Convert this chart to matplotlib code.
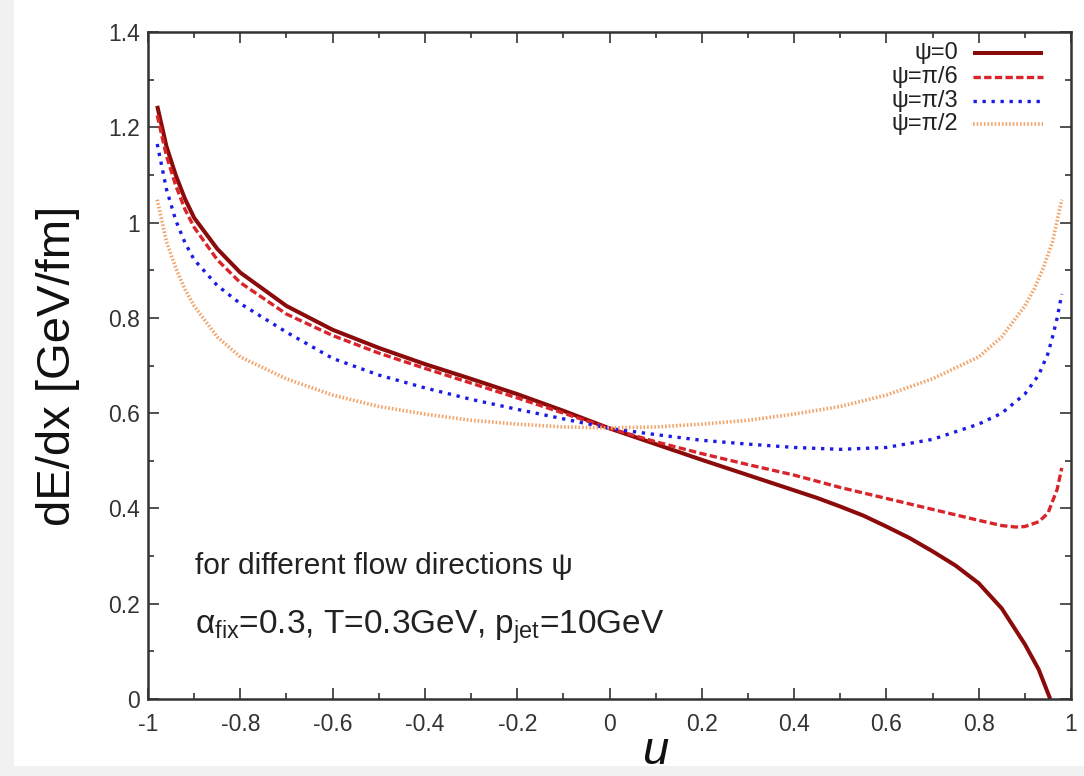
import matplotlib
matplotlib.use("Agg")
import matplotlib.pyplot as plt
from matplotlib.patches import Rectangle

plt.rcParams['font.family'] = ['Liberation Sans', 'DejaVu Sans']
plt.rcParams['mathtext.fontset'] = 'custom'
plt.rcParams['mathtext.rm'] = 'Liberation Sans'
plt.rcParams['mathtext.it'] = 'Liberation Sans:italic'

# ---- data ----
u_psi0 = [-0.98, -0.96, -0.94, -0.92, -0.90, -0.85, -0.80, -0.70, -0.60, -0.50,
          -0.40, -0.30, -0.20, -0.10, 0.00, 0.10, 0.20, 0.30, 0.40, 0.45, 0.50,
          0.55, 0.60, 0.65, 0.70, 0.75, 0.80, 0.85, 0.90, 0.93, 0.955]
dEdx_psi0 = [1.245, 1.16, 1.10, 1.05, 1.01, 0.945, 0.895, 0.825, 0.775, 0.737,
             0.703, 0.672, 0.640, 0.605, 0.568, 0.535, 0.502, 0.470, 0.438, 0.422, 0.404,
             0.385, 0.362, 0.338, 0.310, 0.280, 0.243, 0.190, 0.115, 0.062, 0.0]

u_psi6 = [-0.98, -0.96, -0.94, -0.92, -0.90, -0.85, -0.80, -0.70, -0.60, -0.50,
          -0.40, -0.30, -0.20, -0.10, 0.00, 0.10, 0.20, 0.30, 0.40, 0.50,
          0.60, 0.70, 0.80, 0.85, 0.88, 0.90, 0.93, 0.95, 0.97, 0.98]
dEdx_psi6 = [1.225, 1.14, 1.078, 1.028, 0.99, 0.922, 0.874, 0.808, 0.763, 0.726,
             0.694, 0.663, 0.632, 0.600, 0.568, 0.540, 0.515, 0.492, 0.470, 0.444,
             0.421, 0.398, 0.375, 0.364, 0.361, 0.362, 0.372, 0.390, 0.440, 0.485]

u_psi3 = [-0.98, -0.96, -0.94, -0.92, -0.90, -0.85, -0.80, -0.70, -0.60, -0.50,
          -0.40, -0.30, -0.20, -0.10, 0.00, 0.10, 0.20, 0.30, 0.40, 0.50,
          0.60, 0.70, 0.80, 0.85, 0.90, 0.93, 0.95, 0.96, 0.97, 0.98]
dEdx_psi3 = [1.165, 1.07, 1.005, 0.958, 0.922, 0.868, 0.830, 0.770, 0.715, 0.680,
             0.653, 0.629, 0.608, 0.588, 0.568, 0.555, 0.543, 0.535, 0.528, 0.524,
             0.528, 0.545, 0.577, 0.600, 0.640, 0.680, 0.725, 0.760, 0.800, 0.850]

u_psi2 = [-0.98, -0.96, -0.94, -0.92, -0.90, -0.85, -0.80, -0.70, -0.60, -0.50,
          -0.40, -0.30, -0.20, -0.10, 0.00, 0.10, 0.20, 0.30, 0.40, 0.50,
          0.60, 0.70, 0.80, 0.85, 0.90, 0.92, 0.94, 0.96, 0.98]
dEdx_psi2 = [1.048, 0.960, 0.905, 0.860, 0.825, 0.760, 0.718, 0.672, 0.638, 0.614,
             0.598, 0.585, 0.577, 0.571, 0.569, 0.571, 0.577, 0.585, 0.598, 0.614,
             0.638, 0.672, 0.718, 0.760, 0.825, 0.860, 0.905, 0.960, 1.048]

labels = ['ψ=0', 'ψ=π/6', 'ψ=π/3', 'ψ=π/2']
xticks = [-1, -0.8, -0.6, -0.4, -0.2, 0, 0.2, 0.4, 0.6, 0.8, 1]
xticklabels = ['-1', '-0.8', '-0.6', '-0.4', '-0.2', '0', '0.2', '0.4', '0.6', '0.8', '1']
yticks = [0, 0.2, 0.4, 0.6, 0.8, 1.0, 1.2, 1.4]
yticklabels = ['0', '0.2', '0.4', '0.6', '0.8', '1', '1.2', '1.4']

# ---- figure ----
W, H = 1084, 776
fig = plt.figure(figsize=(W / 100, H / 100), dpi=100)
fig.patch.set_facecolor('white')
fig.add_artist(Rectangle((0, 0), 14 / W, 1, transform=fig.transFigure,
                         facecolor='#f1f1f1', edgecolor='none', zorder=-10))
fig.add_artist(Rectangle((0, 0), 1, 10 / H, transform=fig.transFigure,
                         facecolor='#f1f1f1', edgecolor='none', zorder=-10))

left, right, bottom, top = 148, 1071, 699, 32
ax = fig.add_axes([left / W, (H - bottom) / H, (right - left) / W, (bottom - top) / H])

styles = [
    dict(color='#8b0a0a', lw=2.9, linestyle='-', solid_capstyle='butt'),
    dict(color='#d8242a', lw=2.4, linestyle=(0, (2.2, 1.0))),
    dict(color='#1c1ce6', lw=2.4, linestyle=(0, (1.0, 1.7))),
    dict(color='#f2a46a', lw=2.6, linestyle=(0, (0.45, 0.55))),
]
series = [(u_psi0, dEdx_psi0), (u_psi6, dEdx_psi6), (u_psi3, dEdx_psi3), (u_psi2, dEdx_psi2)]
for (xs, ys), st in zip(series, styles):
    ax.plot(xs, ys, **st)

ax.set_xlim(-1, 1)
ax.set_ylim(0, 1.4)
ax.set_xticks(xticks)
ax.set_xticklabels(xticklabels)
ax.set_yticks(yticks)
ax.set_yticklabels(yticklabels)
ax.set_xticks([-0.9, -0.7, -0.5, -0.3, -0.1, 0.1, 0.3, 0.5, 0.7, 0.9], minor=True)
ax.set_yticks([0.1, 0.3, 0.5, 0.7, 0.9, 1.1, 1.3], minor=True)

ax.tick_params(which='both', direction='in', top=True, right=True, colors='#333333',
               labelcolor='#333333', width=1.2)
ax.tick_params(which='major', length=8, labelsize=16.5)
ax.tick_params(axis='x', which='major', pad=10)
ax.tick_params(axis='y', which='major', pad=6)
ax.tick_params(which='minor', length=4)
for s in ax.spines.values():
    s.set_linewidth(1.8)
    s.set_color('#333333')

ax.set_ylabel('dE/dx [GeV/fm]', fontsize=34, labelpad=20, color='#111111')
fig.text(655 / W, (H - 752) / H, 'u', fontsize=34, style='italic', color='#111111',
         ha='center', va='center')

fig.text(195 / W, (H - 566) / H, 'for different flow directions ψ', fontsize=21.5,
         color='#222222', ha='left', va='center')
fig.text(195 / W, (H - 627) / H, 'α$_{\\mathrm{fix}}$=0.3, T=0.3GeV, p$_{\\mathrm{jet}}$=10GeV',
         fontsize=24, color='#222222', ha='left', va='center')

# legend (drawn as a key box in the upper right)
row_y = [53, 77, 101, 124]
for lab, st, ry in zip(labels, styles, row_y):
    yf = (bottom - ry) / (bottom - top)
    ax.plot([(973 - left) / (right - left), (1043 - left) / (right - left)], [yf, yf],
            transform=ax.transAxes, clip_on=False, **st)
    ax.text((958 - left) / (right - left), yf, lab, transform=ax.transAxes,
            ha='right', va='center', fontsize=17, color='#222222')

fig.savefig('out.png', dpi=100)
